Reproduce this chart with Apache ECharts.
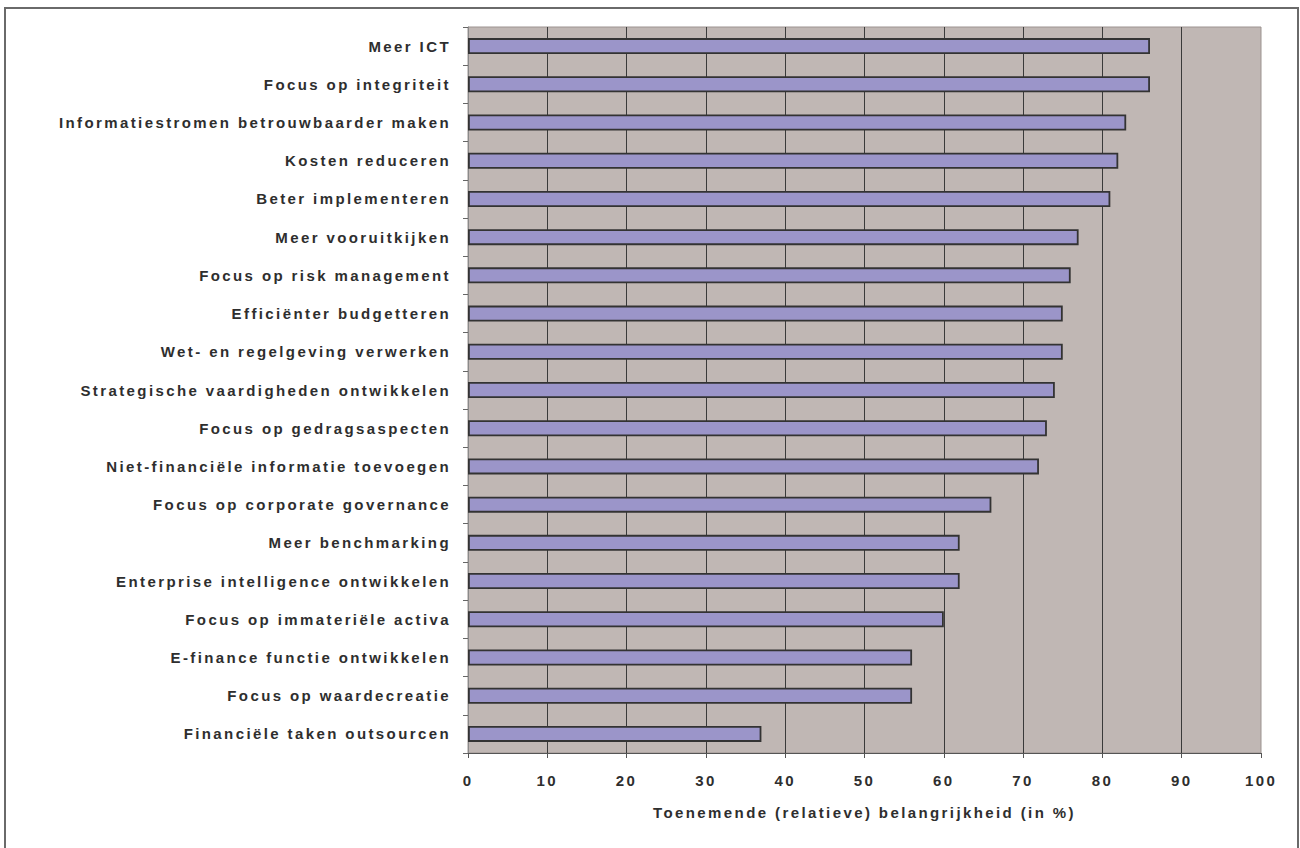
<!DOCTYPE html>
<html>
<head>
<meta charset="utf-8">
<script src="https://cdn.jsdelivr.net/npm/echarts@6/dist/echarts.min.js"></script>
<style>
  html, body { margin: 0; padding: 0; background: #fff; }
  #chart { width: 1300px; height: 848px; }
  /* the source chart spaces its letters wide */
  #chart text { letter-spacing: 2.4px; }
</style>
</head>
<body>
<div id="chart"></div>
<script>
const categories = [
  'Meer ICT',
  'Focus op integriteit',
  'Informatiestromen betrouwbaarder maken',
  'Kosten reduceren',
  'Beter implementeren',
  'Meer vooruitkijken',
  'Focus op risk management',
  'Efficiënter budgetteren',
  'Wet- en regelgeving verwerken',
  'Strategische vaardigheden ontwikkelen',
  'Focus op gedragsaspecten',
  'Niet-financiële informatie toevoegen',
  'Focus op corporate governance',
  'Meer benchmarking',
  'Enterprise intelligence ontwikkelen',
  'Focus op immateriële activa',
  'E-finance functie ontwikkelen',
  'Focus op waardecreatie',
  'Financiële taken outsourcen'
]
const values = [86, 86, 83, 82, 81, 77, 76, 75, 75, 74, 73, 72, 66, 62, 62, 60, 56, 56, 37]
const axisTitle = 'Toenemende (relatieve) belangrijkheid (in %)'

const FONT = '"Liberation Sans", Arial, sans-serif'
const TEXT = '#2e2e2e'

const chart = echarts.init(document.getElementById('chart'), null, { renderer: 'svg' })

chart.setOption({
  animation: false,
  backgroundColor: '#fff',
  graphic: [{
    type: 'rect',
    shape: { x: 5, y: 8, width: 1293, height: 860 },
    style: { fill: 'none', stroke: '#6a6a6a', lineWidth: 2 },
    silent: true
  }],
  grid: {
    left: 468, top: 27, right: 39, bottom: 95,
    show: true,
    backgroundColor: '#c0b7b4',
    borderColor: '#9c9390',
    borderWidth: 1
  },
  xAxis: {
    type: 'value',
    min: 0,
    max: 100,
    interval: 10,
    name: axisTitle,
    nameLocation: 'middle',
    nameGap: 52,
    nameTextStyle: { fontFamily: FONT, fontWeight: 'bold', fontSize: 15, color: TEXT },
    axisLine: { show: true, lineStyle: { color: '#555', width: 1 } },
    axisTick: { show: true, length: 5, lineStyle: { color: '#555' } },
    axisLabel: { margin: 20, fontFamily: FONT, fontWeight: 'bold', fontSize: 15, color: TEXT },
    splitLine: { show: true, showMaxLine: false, lineStyle: { color: '#3a3a3a', width: 1 } }
  },
  yAxis: {
    type: 'category',
    inverse: true,
    data: categories,
    axisLine: { show: true, lineStyle: { color: '#8a8a8a', width: 1 } },
    axisTick: { show: true, length: 5, lineStyle: { color: '#666' } },
    axisLabel: { margin: 17, fontFamily: FONT, fontWeight: 'bold', fontSize: 15, color: TEXT },
    splitLine: { show: false }
  },
  series: [{
    type: 'bar',
    data: values,
    barWidth: 16,
    itemStyle: { color: '#9b95c9', borderColor: '#333', borderWidth: 1.8 }
  }]
})
</script>
</body>
</html>
